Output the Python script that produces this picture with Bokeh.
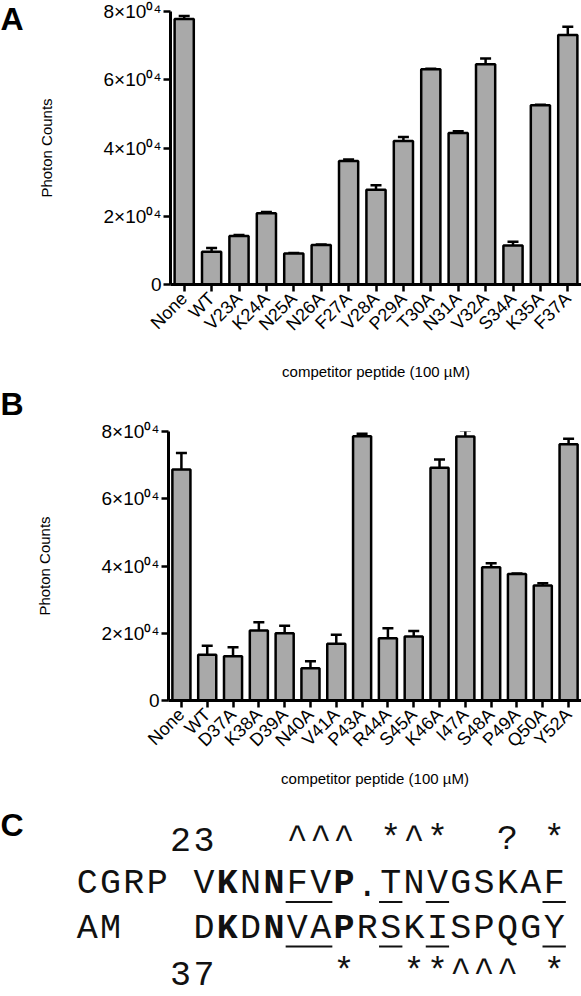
from math import pi
from bokeh.plotting import figure
from bokeh.models import (ColumnDataSource, FactorRange, Range1d, FixedTicker,
                          Whisker, TeeHead)
from bokeh.layouts import column, row
from bokeh.embed import file_html
from bokeh.resources import INLINE
from bokeh.core.properties import value

# ---------------- data ----------------
a_labels = ["None", "WT", "V23A", "K24A", "N25A", "N26A", "F27A", "V28A",
            "P29A", "T30A", "N31A", "V32A", "S34A", "K35A", "F37A"]
a_means = [77800, 9600, 14200, 20850, 9100, 11550, 36200, 27800,
           42050, 63100, 44400, 64550, 11450, 52550, 73150]
a_errs = [900, 1100, 300, 400, 150, 200, 400, 1300,
          1150, 150, 500, 1650, 1050, 100, 2350]

b_labels = ["None", "WT", "D37A", "K38A", "D39A", "N40A", "V41A", "P43A",
            "R44A", "S45A", "K46A", "I47A", "S48A", "P49A", "Q50A", "Y52A"]
b_means = [68700, 13600, 13150, 20800, 20000, 9600, 16900, 78600,
           18500, 19000, 69200, 78500, 39600, 37650, 34200, 76200]
b_errs = [4900, 2700, 2700, 2450, 2250, 2050, 2650, 700,
          2950, 1650, 2500, 1800, 1200, 150, 700, 1650]

y_ticks = [0, 20000, 40000, 60000, 80000]
y_tick_labels = ["0", "2×10⁰⁴", "4×10⁰⁴", "6×10⁰⁴", "8×10⁰⁴"]
y_title = "Photon Counts"
x_title = "competitor peptide (100 µM)"
panel_letters = ["A", "B", "C"]

seq_rows = ["    23   ^^^ *^*  ? *",
            "CGRP VKNNFVP.TNVGSKAF",
            "AM   DKDNVAPRSKISPQGY",
            "    37     *  **^^^ *"]
bold_rows = [1, 2]
bold_cols = [6, 8, 11]
underline_rows = [1, 2]
underline_starts = [9, 13, 15, 20]
underline_ends = [11, 14, 16, 21]

# ---------------- layout constants ----------------
W = 581
LETTER_W = 30
FONT = "Liberation Sans"
BAR_FILL = "#a9a9a9"
TEXT_SHIFT = -12   # compensates the renderer's baseline placement (px)


def letter_fig(letter, height, baseline):
    f = figure(width=LETTER_W, height=height,
               x_range=Range1d(0, LETTER_W), y_range=Range1d(height, 0),
               x_axis_type=None, y_axis_type=None, min_border=0,
               frame_align=False, output_backend="svg",
               toolbar_location=None, tools="")
    f.xgrid.visible = False
    f.ygrid.visible = False
    f.outline_line_color = None
    f.text(x=[0], y=[baseline], text=[letter], text_font=value(FONT),
           text_font_size="32px", text_font_style="bold", text_color="black",
           text_align="left", text_baseline="alphabetic", y_offset=TEXT_SHIFT)
    return f


def bar_panel(labels, means, errs, height, top, bottom, left, xlabel_standoff):
    src = ColumnDataSource(dict(cat=labels, val=means,
                                upper=[m + e for m, e in zip(means, errs)]))
    p = figure(x_range=FactorRange(factors=labels, range_padding=0),
               y_range=Range1d(0, 80000), width=W - LETTER_W, height=height,
               min_border_top=top, min_border_bottom=bottom,
               min_border_left=left - LETTER_W, min_border_right=0,
               frame_align=False,
               output_backend="svg", toolbar_location=None, tools="")
    p.vbar(x="cat", top="val", width=0.7, source=src, fill_color=BAR_FILL,
           line_color="black", line_width=2.5)
    p.add_layout(Whisker(source=src, base="cat", lower="val", upper="upper",
                         dimension="height", line_width=2.5, line_color="black",
                         upper_head=TeeHead(size=11, line_width=2.5,
                                            line_color="black"),
                         lower_head=None))
    p.xgrid.visible = False
    p.ygrid.visible = False
    p.outline_line_color = None

    ya = p.yaxis[0]
    ya.ticker = FixedTicker(ticks=y_ticks, minor_ticks=[])
    ya.major_label_overrides = dict(zip(y_ticks, y_tick_labels))
    ya.axis_line_width = 3
    ya.major_tick_line_width = 2.5
    ya.major_tick_out = 7
    ya.major_tick_in = 0
    ya.minor_tick_out = 0
    ya.minor_tick_in = 0
    ya.major_label_standoff = 2
    ya.major_label_text_font = FONT
    ya.major_label_text_font_size = "19px"
    ya.major_label_text_color = "black"
    ya.axis_label = y_title
    ya.axis_label_text_font = FONT
    ya.axis_label_text_font_size = "15px"
    ya.axis_label_text_font_style = "normal"
    ya.axis_label_text_color = "black"
    ya.axis_label_standoff = 46

    xa = p.xaxis[0]
    xa.axis_line_width = 3
    xa.major_tick_line_width = 2.5
    xa.major_tick_out = 7
    xa.major_tick_in = 0
    xa.major_label_orientation = pi / 4
    xa.major_label_standoff = 4
    xa.major_label_text_font = FONT
    xa.major_label_text_font_size = "18px"
    xa.major_label_text_color = "black"
    xa.axis_label = x_title
    xa.axis_label_text_font = FONT
    xa.axis_label_text_font_size = "15px"
    xa.axis_label_text_font_style = "normal"
    xa.axis_label_text_color = "black"
    xa.axis_label_standoff = xlabel_standoff
    return p


H_A, H_B, H_C = 386, 404, 206
pa = bar_panel(a_labels, a_means, a_errs, H_A, 11, 102, 170, 19)
pb = bar_panel(b_labels, b_means, b_errs, H_B, 45, 87, 168, 9)
ra = row(letter_fig(panel_letters[0], H_A, 30), pa, spacing=0)
rb = row(letter_fig(panel_letters[1], H_B, 29), pb, spacing=0)

# ---------------- panel C (sequence alignment) ----------------
CH_W = 23.35       # px per character column
ROW_H = 44.5       # px per text row
C_LEFT = 75        # px from figure left to column 0
C_TOP = 61         # px from figure top to first baseline

xs, ys, ts, styles = [], [], [], []
for r, line in enumerate(seq_rows):
    for c, ch in enumerate(line):
        if ch != " ":
            xs.append(c + 0.5)
            ys.append(r)
            ts.append(ch)
            styles.append("bold" if (r in bold_rows and c in bold_cols) else "normal")
csrc = ColumnDataSource(dict(x=xs, y=ys, t=ts, fstyle=styles))

ux0, ux1, uy = [], [], []
for r in underline_rows:
    for s, e in zip(underline_starts, underline_ends):
        ux0.append(s)
        ux1.append(e)
        uy.append(r + 6 / ROW_H)
usrc = ColumnDataSource(dict(x0=ux0, x1=ux1, y=uy))

pc = figure(width=W, height=H_C,
            x_range=Range1d(-C_LEFT / CH_W, (W - C_LEFT) / CH_W),
            y_range=Range1d(start=(H_C - C_TOP) / ROW_H, end=-C_TOP / ROW_H),
            x_axis_type=None, y_axis_type=None, min_border=0,
            frame_align=False,
            output_backend="svg", toolbar_location=None, tools="")
pc.xgrid.visible = False
pc.ygrid.visible = False
pc.outline_line_color = None
pc.text(x="x", y="y", text="t", source=csrc, text_font=value("Liberation Mono"),
        text_font_size="35px", text_font_style="fstyle", text_align="center",
        text_baseline="alphabetic", text_color="#111111", y_offset=TEXT_SHIFT)
pc.segment(x0="x0", y0="y", x1="x1", y1="y", source=usrc,
           line_color="#111111", line_width=2)
pc.text(x=[-C_LEFT / CH_W], y=[(46 - C_TOP) / ROW_H], text=[panel_letters[2]],
        text_font=value(FONT), text_font_size="32px", text_font_style="bold",
        text_color="black", text_align="left", text_baseline="alphabetic",
        y_offset=TEXT_SHIFT)

layout = column(ra, rb, pc, spacing=0)
open("out.html", "w").write(file_html(layout, INLINE))
